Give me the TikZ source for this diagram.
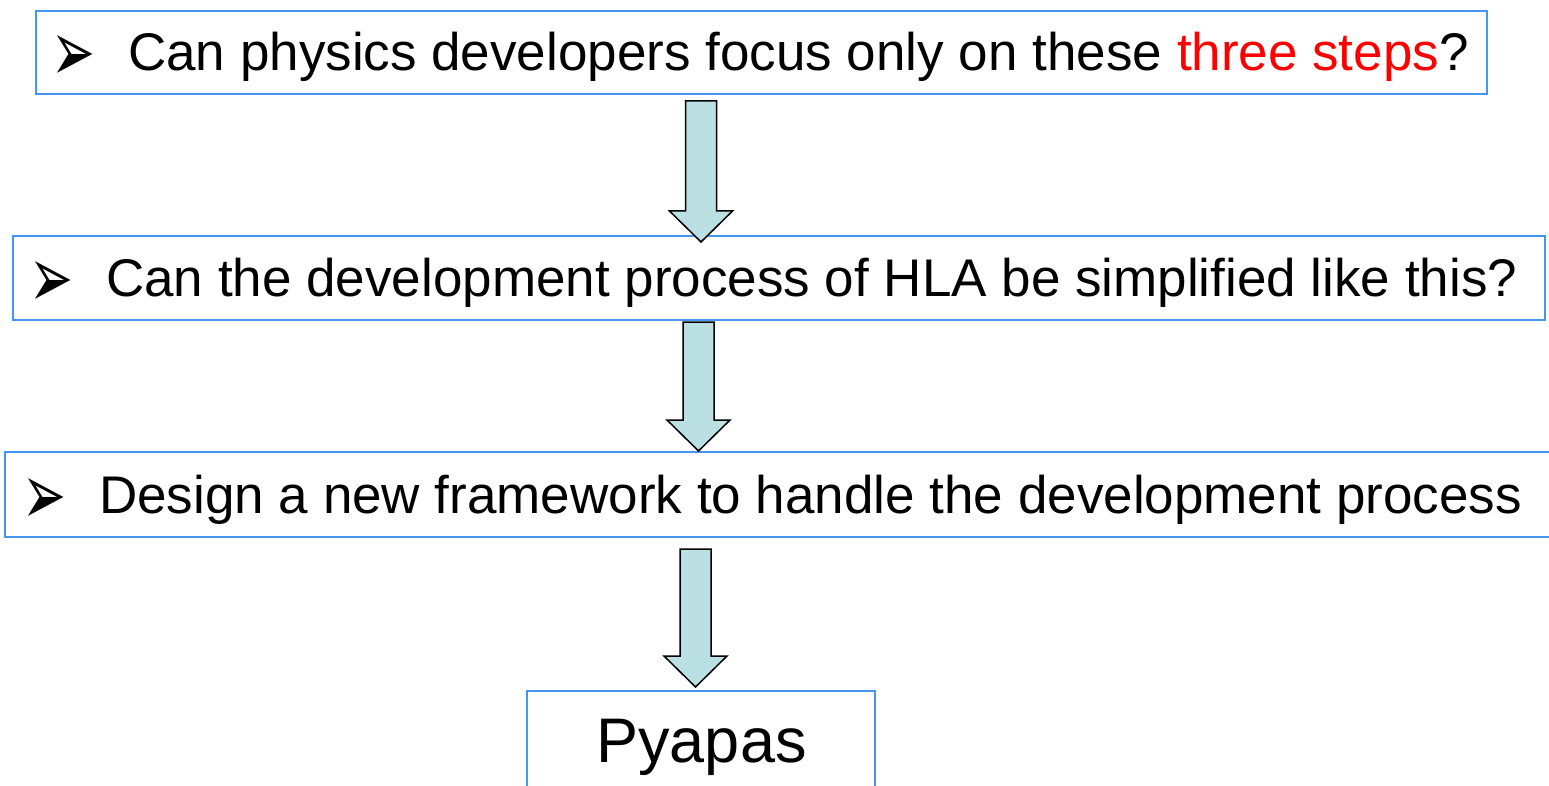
\documentclass[tikz,border=0pt]{standalone}
\usepackage{fontspec}
\setmainfont{Liberation Sans}
\newfontfamily\dejavu{DejaVu Sans}
\usetikzlibrary{calc}
\definecolor{boxblue}{RGB}{70,150,240}
\definecolor{arrowfill}{RGB}{187,224,227}
\definecolor{hlred}{RGB}{255,0,0}
\newcommand{\bul}{\makebox[71pt][l]{\hspace*{-6pt}\raisebox{-11pt}{\resizebox{44pt}{46pt}{\dejavu ➢}}}}
\tikzset{
  qbox/.style={draw=boxblue, line width=2pt, rectangle, inner sep=0pt, fill=white},
  qtext/.style={inner sep=0pt, anchor=base west, font=\fontsize{53pt}{60pt}\selectfont},
  barrow/.style={draw=black, line width=1.5pt, fill=arrowfill, line join=miter,
    to path={let \p1=(\tikztostart), \p2=(\tikztotarget) in
      (\x1-15.5pt,\y1) -- (\x1+15.5pt,\y1) -- (\x1+15.5pt,\y2+31pt) -- (\x1+31.5pt,\y2+31pt)
      -- (\x1,\y2) -- (\x1-31.5pt,\y2+31pt) -- (\x1-15.5pt,\y2+31pt) -- cycle}}
}
\begin{document}
\begin{tikzpicture}[x=1pt,y=-1pt]
\useasboundingbox (0,0) rectangle (1549,786);
\node[qbox, minimum width=1451pt, minimum height=83pt] (q1) at (761.5,52.5) {};
\node[qbox, minimum width=1532pt, minimum height=84pt] (q2) at (779,278) {};
\node[qbox, minimum width=1555pt, minimum height=85pt] (q3) at (782.5,494.5) {};
\node[qbox, minimum width=348pt, minimum height=109pt] (q4) at (701,745.5) {};
\node[qtext] (t1) at (57,71) {\bul Can physics developers focus only on these \textcolor{hlred}{three steps}?};
\node[qtext] (t2) at (35,296) {\bul Can the development process of HLA be simplified like this?};
\node[qtext] (t3) at (28,513) {\bul Design a new framework to handle the development process};
\node[inner sep=0pt, anchor=base, font=\fontsize{63pt}{70pt}\selectfont] (t4) at (701.5,762) {Pyapas};
\draw[barrow] ([xshift=-60.5pt,yshift=-6pt]q1.south) to ([xshift=-78pt,yshift=-7pt]q2.north);
\draw[barrow] ([xshift=-80.5pt,yshift=-1pt]q2.south) to ([xshift=-84pt,yshift=0pt]q3.north);
\draw[barrow] ([xshift=-87pt,yshift=-11pt]q3.south) to ([xshift=-5.5pt,yshift=3pt]q4.north);
\end{tikzpicture}
\end{document}
